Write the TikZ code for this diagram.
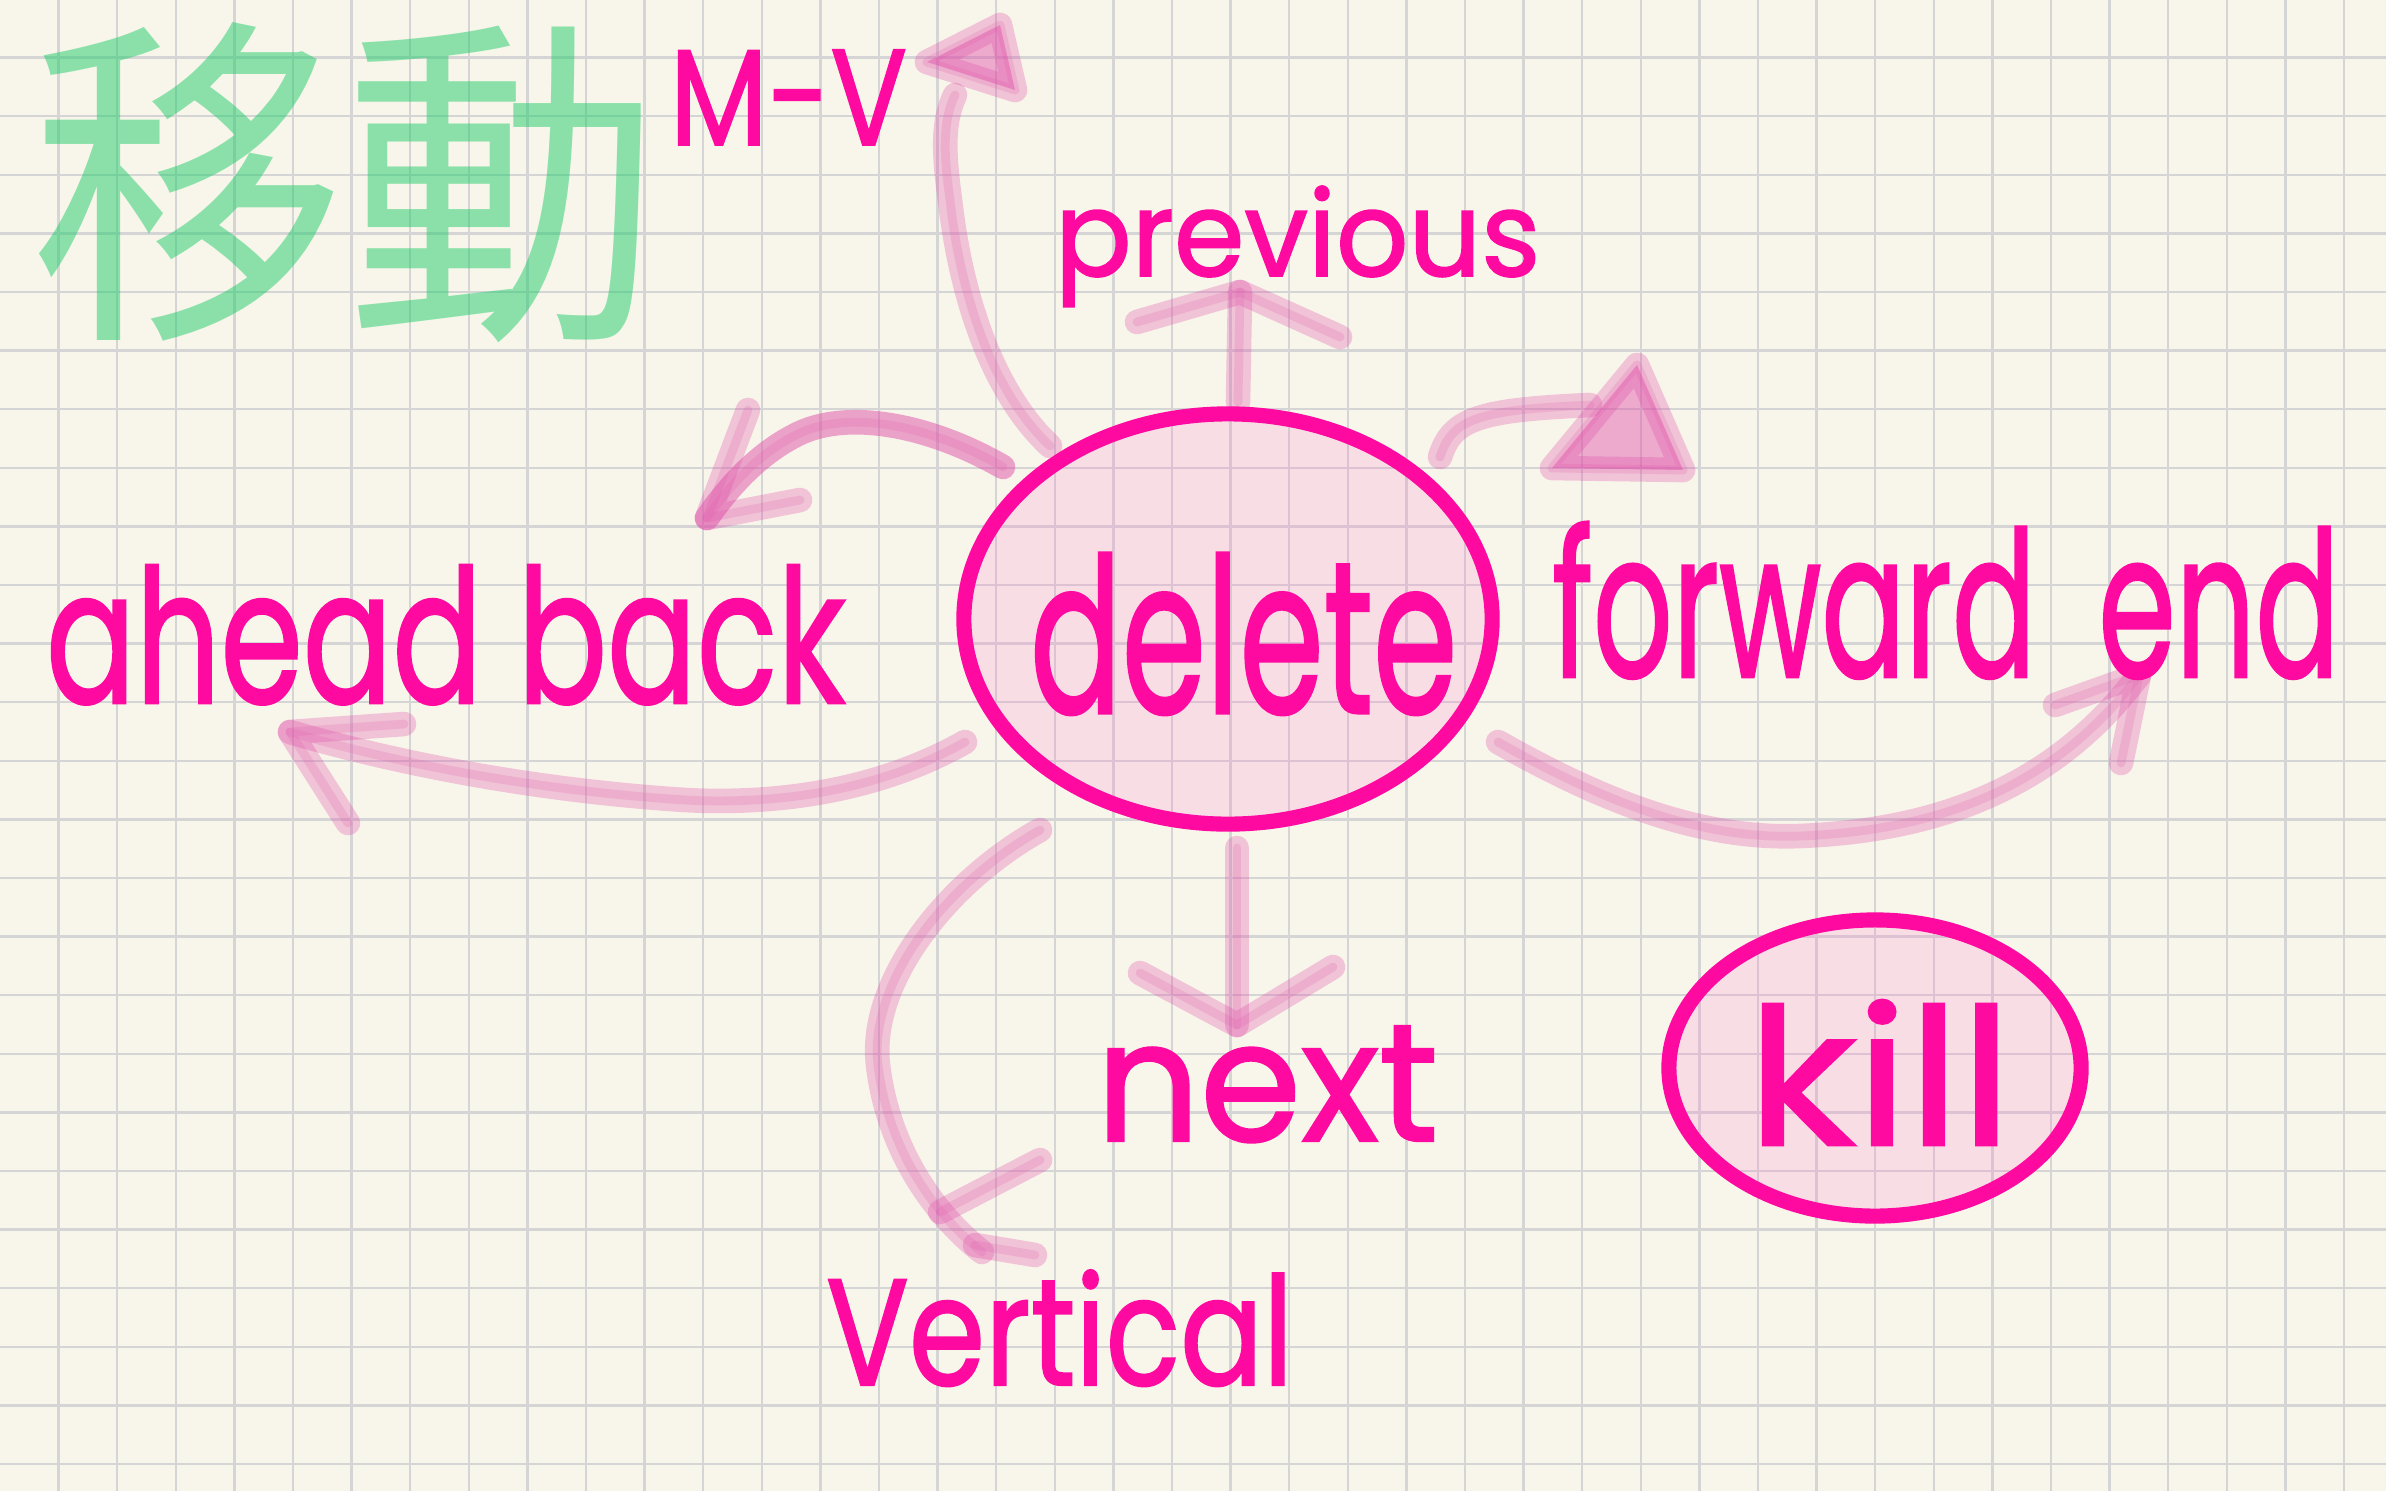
\documentclass[tikz,border=0pt]{standalone}
\usepackage{fontspec}
\usepackage{graphicx}
\newfontfamily\hand{Poppins}[FakeBold=1.4]
\newfontfamily\cjk{Noto Sans CJK TC}
\usetikzlibrary{shapes.geometric}
\definecolor{paper}{HTML}{F8F6EA}
\definecolor{gridc}{HTML}{D5D5D5}
\definecolor{ink}{HTML}{FF0AA0}
\definecolor{crayonc}{HTML}{E04FAA}
\definecolor{bubblefill}{HTML}{FF79CC}
\definecolor{chalkgreen}{HTML}{1FCC6A}
\tikzset{
  gridline/.style={draw=gridc, line width=0.7pt},
  hw/.style={inner sep=0pt, outer sep=0pt, anchor=base west, text=ink, font=\hand},
  titletext/.style={inner sep=0pt, outer sep=0pt, anchor=north west, text=chalkgreen, text opacity=0.5, font=\cjk},
  bubble/.style={ellipse, draw=ink, line width=4.3pt, fill=bubblefill, fill opacity=0.2, draw opacity=1, inner sep=0pt},
  crayon/.style={draw=crayonc, draw opacity=0.3, line width=7pt, line cap=round, line join=round,
    postaction={draw=crayonc, draw opacity=0.18, line width=2.5pt}},
  crayondark/.style={crayon, draw opacity=0.5},
  crayonhead/.style={crayon, fill=crayonc, fill opacity=0.45}
}
\begin{document}
\begin{tikzpicture}[x=0.01cm,y=-0.01cm]
\fill[paper] (0,0) rectangle (2386,1491);
\useasboundingbox (0,0) rectangle (2386,1491);
\foreach \i in {1,...,40} {\draw[gridline] ({58.6*\i},0) -- ({58.6*\i},1491);}
\foreach \j in {1,...,25} {\draw[gridline] (0,{58.6*\j-1}) -- (2386,{58.6*\j-1});}

% title
\node[titletext] (ttl) at (30,22) {\resizebox*{6.3cm}{3.2cm}{移動}};

% arrow end points
\coordinate (mvS) at (1050,446);  \coordinate (mvT) at (955,95);
\coordinate (mvA) at (927,62);    \coordinate (mvB) at (1000,25);  \coordinate (mvC) at (1015,90);
\coordinate (bkS) at (1003,467);  \coordinate (bkT) at (707,518);
\coordinate (bkA) at (748,410);   \coordinate (bkB) at (800,500);
\coordinate (pvS) at (1238,402);  \coordinate (pvT) at (1240,292);
\coordinate (pvA) at (1137,322);  \coordinate (pvB) at (1340,337);
\coordinate (fwS) at (1440,457);  \coordinate (fwT) at (1590,405);
\coordinate (fwA) at (1637,365);  \coordinate (fwB) at (1683,470); \coordinate (fwC) at (1552,468);
\coordinate (feS) at (1498,742);  \coordinate (feT) at (2139,675);
\coordinate (feA) at (2055,705);  \coordinate (feB) at (2121,763);
\coordinate (abS) at (965,742);   \coordinate (abT) at (290,732);
\coordinate (abA) at (404,724);   \coordinate (abB) at (348,823);
\coordinate (nxS) at (1237,848);  \coordinate (nxT) at (1237,1025);
\coordinate (nxA) at (1140,973);  \coordinate (nxB) at (1333,967);
\coordinate (vtS) at (1040,830);  \coordinate (vtT) at (982,1252);
\coordinate (vtA) at (940,1212);  \coordinate (vtB) at (1040,1160);
\coordinate (vtC) at (975,1245);  \coordinate (vtD) at (1035,1255);

% M-V arrow
\draw[crayon] (mvS) .. controls (990,390) and (960,290) .. (950,200) .. controls (943,150) and (943,120) .. (mvT);
\filldraw[crayonhead] (mvA) -- (mvB) -- (mvC) -- cycle;
% back arrow (upper arc)
\draw[crayondark] (bkS) .. controls (930,425) and (850,410) .. (800,433) .. controls (760,452) and (730,485) .. (bkT);
\draw[crayon] (bkA) -- (bkT) -- (bkB);
% previous
\draw[crayon] (pvS) -- (pvT);
\draw[crayon] (pvA) -- (pvT) -- (pvB);
% forward
\draw[crayon] (fwS) .. controls (1452,418) and (1480,410) .. (fwT);
\filldraw[crayonhead] (fwA) -- (fwB) -- (fwC) -- cycle;
% forward end
\draw[crayon] (feS) .. controls (1600,800) and (1700,840) .. (1800,836) .. controls (1950,830) and (2060,780) .. (feT);
\draw[crayon] (feA) -- (feT) -- (feB);
% ahead back (long)
\draw[crayon] (abS) .. controls (880,790) and (780,805) .. (685,800) .. controls (560,792) and (420,770) .. (abT);
\draw[crayon] (abA) -- (abT) -- (abB);
% next
\draw[crayon] (nxS) -- (nxT);
\draw[crayon] (nxA) -- (nxT) -- (nxB);
% vertical
\draw[crayon] (vtS) .. controls (950,880) and (868,980) .. (878,1065) .. controls (888,1150) and (935,1215) .. (vtT);
\draw[crayon] (vtA) -- (vtB);
\draw[crayon] (vtC) -- (vtD);

% bubbles
\node[bubble, minimum width=5.28cm, minimum height=4.10cm] (del) at (1228,619) {};
\node[bubble, minimum width=4.12cm, minimum height=2.96cm] (killb) at (1875,1068) {};

% labels
\node[hw] (mv) at (670,145) {\resizebox{2.37cm}{0.95cm}{M-V}};
\node[hw] (prev) at (1055,276) {\resizebox{4.85cm}{0.9cm}{previous}};
\node[hw] (ahead) at (46,703) {\resizebox{7.99cm}{1.38cm}{ahead back}};
\node[hw] (fwd) at (1552,677) {\resizebox{7.87cm}{1.55cm}{forward\hspace{0.5em}end}};
\node[hw] (deltext) at (1030,713) {\resizebox{4.27cm}{1.6cm}{delete}};
\node[hw] (next) at (1096,1141) {\resizebox{3.42cm}{1.15cm}{next}};
\node[hw] (vert) at (826,1385) {\resizebox{4.67cm}{1.15cm}{Vertical}};
\node[hw] (killt) at (1747,1145) {\resizebox{2.65cm}{1.45cm}{kill}};
\end{tikzpicture}
\end{document}
